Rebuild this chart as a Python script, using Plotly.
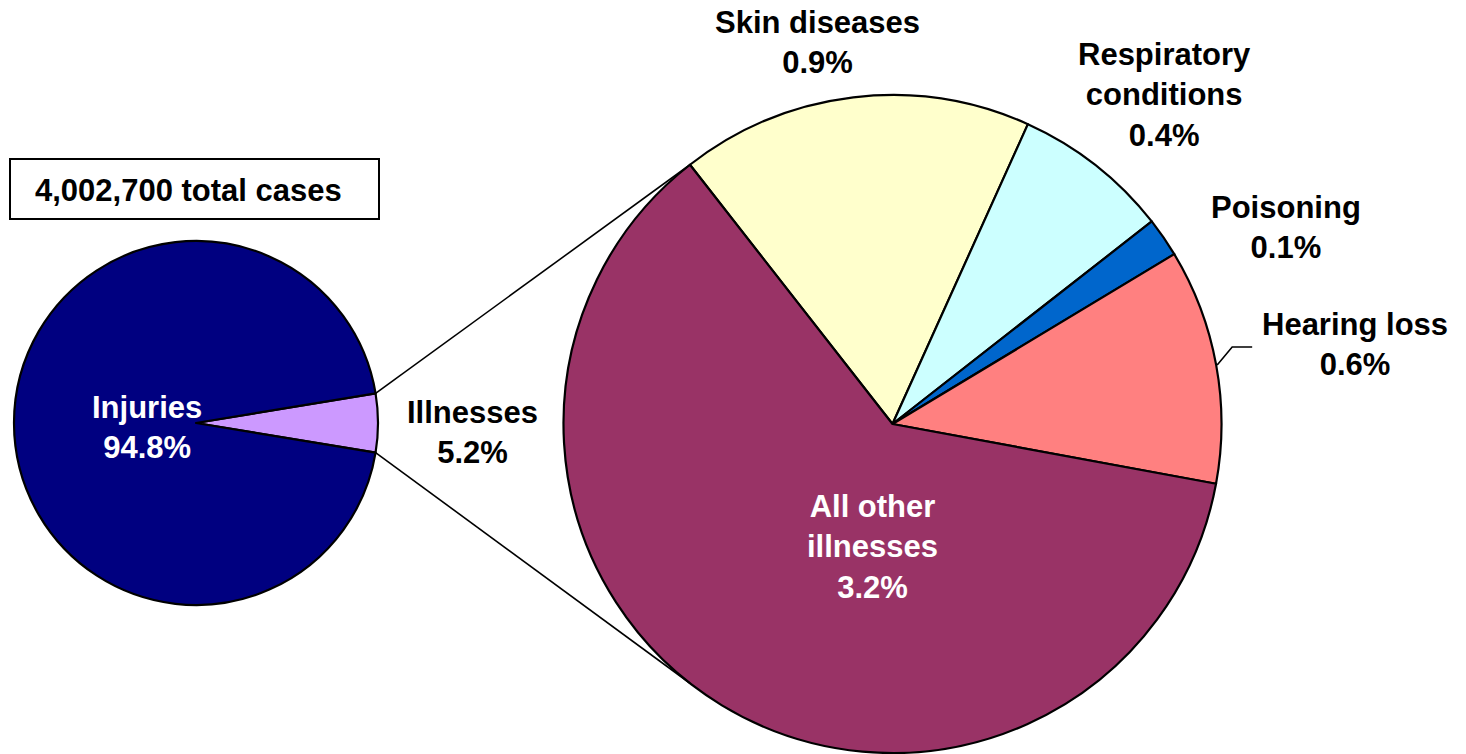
import math
import plotly.graph_objects as go

W, H = 1466, 754

# ---------------- data ----------------
main_labels = ["Illnesses", "Injuries"]
main_values = [5.2, 94.8]
main_colors = ["#CC99FF", "#000080"]

sub_labels = ["Skin diseases", "Respiratory conditions", "Poisoning", "Hearing loss", "All other illnesses"]
sub_values = [0.9, 0.4, 0.1, 0.6, 3.2]
sub_colors = ["#FFFFCC", "#CCFFFF", "#0066CC", "#FF8080", "#993366"]

total_cases_text = "4,002,700 total cases"

# ---------------- geometry (layout choices, pixels) ----------------
L_CX, L_CY, L_R = 196, 423, 182
R_CX, R_CY, R_R = 892.5, 424, 329
SUB_ROTATION = -38.0  # start angle of first slice of secondary pie (deg, clockwise from 12 o'clock)

def px(x):
    return x / W

def py(y):
    return 1 - y / H

def domain(cx, cy, r):
    return dict(x=[px(cx - r), px(cx + r)], y=[py(cy + r), py(cy - r)])

def edge_point(cx, cy, r, ang_deg):
    a = math.radians(ang_deg)
    return cx + r * math.sin(a), cy - r * math.cos(a)

# main pie: illness slice centred at 3 o'clock
ill_share = main_values[0] / sum(main_values) * 360.0
main_rotation = 90 - ill_share / 2

fig = go.Figure()
fig.add_trace(go.Pie(
    labels=main_labels, values=main_values, sort=False, direction="clockwise",
    rotation=main_rotation, domain=domain(L_CX, L_CY, L_R),
    marker=dict(colors=main_colors, line=dict(color="black", width=2.2)),
    textinfo="none", hoverinfo="label+percent", showlegend=False,
))
fig.add_trace(go.Pie(
    labels=sub_labels, values=sub_values, sort=False, direction="clockwise",
    rotation=SUB_ROTATION, domain=domain(R_CX, R_CY, R_R),
    marker=dict(colors=sub_colors, line=dict(color="black", width=2.2)),
    textinfo="none", hoverinfo="label+value", showlegend=False,
))

shapes = []
# connector lines between pies
up_l = edge_point(L_CX, L_CY, L_R, main_rotation)
lo_l = edge_point(L_CX, L_CY, L_R, main_rotation + ill_share)
up_r = edge_point(R_CX, R_CY, R_R, SUB_ROTATION)
lo_r = edge_point(R_CX, R_CY, R_R, 180 - SUB_ROTATION)
for a, b in [(up_l, up_r), (lo_l, lo_r)]:
    shapes.append(dict(type="line", xref="paper", yref="paper",
                       x0=px(a[0]), y0=py(a[1]), x1=px(b[0]), y1=py(b[1]),
                       line=dict(color="black", width=1.6)))

# leader line for hearing loss (from slice mid-angle)
sub_total = sum(sub_values)
cum = 0.0
mid_angles = []
for v in sub_values:
    mid_angles.append(SUB_ROTATION + (cum + v / 2) / sub_total * 360.0)
    cum += v
hx, hy = edge_point(R_CX, R_CY, R_R + 1, mid_angles[3])
shapes.append(dict(type="path", xref="paper", yref="paper",
                   path=f"M {px(hx)},{py(hy)} L {px(hx + 15)},{py(hy - 18)} L {px(hx + 35)},{py(hy - 18)}",
                   line=dict(color="black", width=1.6)))

# total cases box
shapes.append(dict(type="rect", xref="paper", yref="paper",
                   x0=px(10), x1=px(379), y0=py(219), y1=py(159),
                   line=dict(color="black", width=2), fillcolor="white"))

FONT = "Liberation Sans, Arial, Helvetica, sans-serif"
FS = 31

def ann(text, x, y, color="black"):
    return dict(text=text, x=px(x), y=py(y), xref="paper", yref="paper",
                xanchor="center", yanchor="middle", showarrow=False, align="center",
                font=dict(family=FONT, size=FS, color=color, weight="bold"))

def pct(v):
    return f"{v:.1f}%"

annotations = [
    ann(total_cases_text, 188, 190),
    ann(f"Injuries<br>{pct(main_values[1])}", 147, 427, "white"),
    ann(f"Illnesses<br>{pct(main_values[0])}", 472, 432),
    ann(f"Skin diseases<br>{pct(sub_values[0])}", 817, 43),
    ann(f"Respiratory<br>conditions<br>{pct(sub_values[1])}", 1164, 95),
    ann(f"Poisoning<br>{pct(sub_values[2])}", 1286, 228),
    ann(f"Hearing loss<br>{pct(sub_values[3])}", 1355, 344),
    ann(f"All other<br>illnesses<br>{pct(sub_values[4])}", 872, 547, "white"),
]

fig.update_layout(
    width=W, height=H, margin=dict(l=0, r=0, t=0, b=0),
    paper_bgcolor="white", plot_bgcolor="white",
    shapes=shapes, annotations=annotations, showlegend=False,
)

fig.write_html("out.html", config={"displayModeBar": False},
               post_script="document.body.style.margin='0';document.body.style.overflow='hidden';")
